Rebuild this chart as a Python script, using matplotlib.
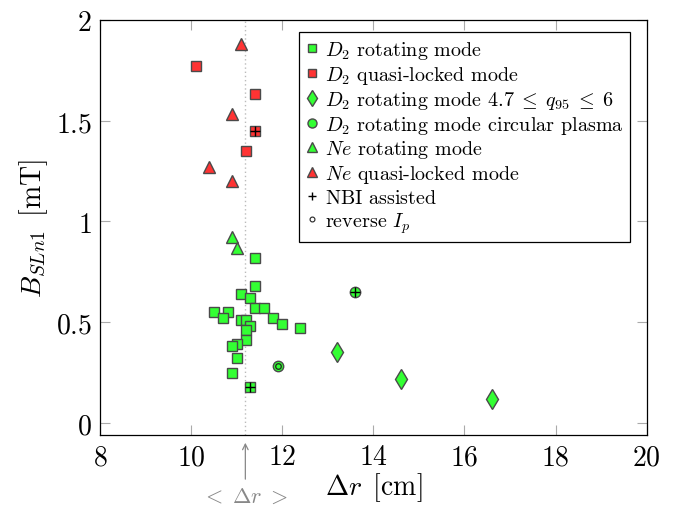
import matplotlib
matplotlib.use('Agg')
import matplotlib.pyplot as plt
from matplotlib.ticker import FuncFormatter
from matplotlib.lines import Line2D

plt.rcParams['mathtext.fontset'] = 'cm'
plt.rcParams['font.family'] = 'serif'

# D2 rotating mode
d2_rot_x = [11.4, 11.4, 11.1, 11.3, 11.4, 11.6, 11.8, 12.0, 12.4, 10.5, 10.8,
            10.7, 11.1, 11.2, 11.3, 11.2, 11.2, 11.0, 10.9, 11.0, 10.9, 11.3]
d2_rot_y = [0.82, 0.68, 0.64, 0.62, 0.57, 0.57, 0.52, 0.49, 0.47, 0.55, 0.55,
            0.52, 0.51, 0.51, 0.48, 0.46, 0.41, 0.39, 0.38, 0.32, 0.25, 0.18]
# D2 quasi-locked mode
d2_ql_x = [10.1, 11.4, 11.4, 11.2]
d2_ql_y = [1.77, 1.63, 1.45, 1.35]
# D2 rotating mode, 4.7 <= q95 <= 6
d2_q95_x = [13.2, 14.6, 16.6]
d2_q95_y = [0.35, 0.22, 0.12]
# D2 rotating mode, circular plasma
d2_circ_x = [11.9, 13.6]
d2_circ_y = [0.28, 0.65]
# Ne rotating / quasi-locked
ne_rot_x = [10.9, 11.0]
ne_rot_y = [0.92, 0.87]
ne_ql_x = [11.1, 10.9, 10.4, 10.9]
ne_ql_y = [1.88, 1.53, 1.27, 1.20]
# flags
nbi_x = [11.3, 11.4, 13.6]
nbi_y = [0.18, 1.45, 0.65]
rev_x = [11.9]
rev_y = [0.28]

mean_dr = 11.19

xticks = [8, 10, 12, 14, 16, 18, 20]
yticks = [0, 0.5, 1, 1.5, 2]

green = '#33ff33'
red = '#ff3333'
edge = '#4a4a4a'

fig = plt.figure(figsize=(6.74, 5.10), dpi=100)
ax = fig.add_axes([0.1484, 0.1451, 0.8111, 0.8143])

kw = dict(linestyle='none', markeredgecolor=edge, markeredgewidth=1.0)
ax.plot(d2_rot_x, d2_rot_y, marker='s', markersize=7.2, markerfacecolor=green, **kw)
ax.plot(d2_ql_x, d2_ql_y, marker='s', markersize=7.2, markerfacecolor=red, **kw)
ax.plot(d2_q95_x, d2_q95_y, marker='d', markersize=10, markerfacecolor=green, **kw)
ax.plot(d2_circ_x, d2_circ_y, marker='o', markersize=7.5, markerfacecolor=green, **kw)
ax.plot(ne_rot_x, ne_rot_y, marker='^', markersize=8.5, markerfacecolor=green, **kw)
ax.plot(ne_ql_x, ne_ql_y, marker='^', markersize=8.5, markerfacecolor=red, **kw)
ax.plot(nbi_x, nbi_y, marker='+', markersize=7, color='black', linestyle='none',
        markeredgewidth=1.0)
ax.plot(rev_x, rev_y, marker='o', markersize=4, markerfacecolor='none',
        markeredgecolor='#222222', linestyle='none', markeredgewidth=0.9)

ax.axvline(mean_dr, color='#bbbbbb', linestyle=(0, (1, 2)), linewidth=1.0, zorder=0)
ax.annotate('', xy=(mean_dr, -0.012), xytext=(mean_dr, -0.113),
            xycoords=('data', 'axes fraction'), textcoords=('data', 'axes fraction'),
            arrowprops=dict(arrowstyle='->', color='#888888', lw=0.9),
            annotation_clip=False)
ax.text(mean_dr, -0.147, r'$<\;\Delta r\;>$', transform=ax.get_xaxis_transform(),
        ha='center', va='center', fontsize=16, color='#888888')

ax.set_xlim(8, 20)
ax.set_ylim(-0.06, 2)
ax.set_xticks(xticks)
ax.set_yticks(yticks)
fmt = FuncFormatter(lambda v, p: '$%g$' % v)
ax.xaxis.set_major_formatter(fmt)
ax.yaxis.set_major_formatter(fmt)
ax.tick_params(direction='in', length=7, width=0.8, color='#aaaaaa',
               top=True, right=True, labelsize=20, pad=6)

ax.set_xlabel(r'$\Delta r\ \,[\mathrm{cm}]$', fontsize=20, labelpad=0)
ax.set_ylabel(r'$B_{SLn1}\ \,[\mathrm{mT}]$', fontsize=20, labelpad=4)

for s in ax.spines.values():
    s.set_linewidth(0.9)

handles = [
    Line2D([], [], marker='s', markersize=6, markerfacecolor=green, **kw),
    Line2D([], [], marker='s', markersize=6, markerfacecolor=red, **kw),
    Line2D([], [], marker='d', markersize=8, markerfacecolor=green, **kw),
    Line2D([], [], marker='o', markersize=6.5, markerfacecolor=green, **kw),
    Line2D([], [], marker='^', markersize=7, markerfacecolor=green, **kw),
    Line2D([], [], marker='^', markersize=7, markerfacecolor=red, **kw),
    Line2D([], [], marker='+', markersize=6, color='black', linestyle='none'),
    Line2D([], [], marker='o', markersize=3.5, markerfacecolor='none',
           markeredgecolor='#222222', linestyle='none', markeredgewidth=0.8),
]
labels = [
    r'$D_2\text{ rotating mode}$',
    r'$D_2\text{ quasi-locked mode}$',
    r'$D_2\text{ rotating mode }4.7\;\leq\; q_{95}\;\leq\; 6$',
    r'$D_2\text{ rotating mode circular plasma}$',
    r'$Ne\text{ rotating mode}$',
    r'$Ne\text{ quasi-locked mode}$',
    r'$\text{NBI assisted}$',
    r'$\text{reverse }I_p$',
]
leg = ax.legend(handles, labels, loc='upper right', bbox_to_anchor=(0.97, 0.97),
                borderaxespad=0, fontsize=14.5, fancybox=False, framealpha=1,
                edgecolor='black', handlelength=0.6, handletextpad=0.3,
                labelspacing=0.14, borderpad=0.35)
leg.get_frame().set_linewidth(0.9)

fig.savefig('out.png', dpi=100)
